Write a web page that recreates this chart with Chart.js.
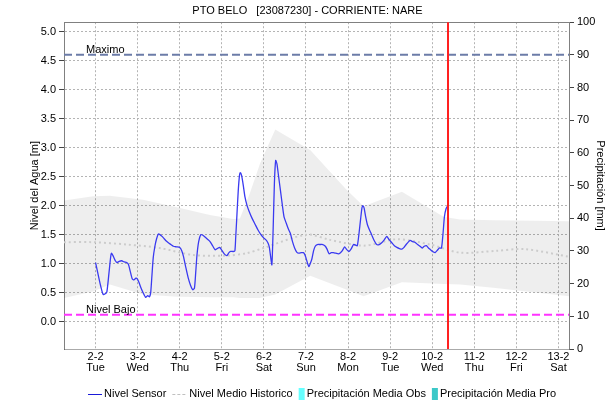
<!DOCTYPE html>
<html>
<head>
<meta charset="utf-8">
<script src="https://cdn.jsdelivr.net/npm/chart.js@4/dist/chart.umd.min.js"></script>
<style>
  html, body { margin: 0; padding: 0; background: #fff; }
  #c { display: block; }
</style>
</head>
<body>
<canvas id="c" width="615" height="408"></canvas>
<script>
// Day axis: value 2 = 2 Feb 00:00, fractions are parts of a day
const tickDays = [2, 3, 4, 5, 6, 7, 8, 9, 10, 11, 12, 13];
const tickDates = ['2-2', '3-2', '4-2', '5-2', '6-2', '7-2', '8-2', '9-2', '10-2', '11-2', '12-2', '13-2'];
const tickWeekdays = ['Tue', 'Wed', 'Thu', 'Fri', 'Sat', 'Sun', 'Mon', 'Tue', 'Wed', 'Thu', 'Fri', 'Sat'];
const levelTicks = [0, 0.5, 1, 1.5, 2, 2.5, 3, 3.5, 4, 4.5, 5];
const precipTicks = [0, 10, 20, 30, 40, 50, 60, 70, 80, 90, 100];

const dayStart = 1.25;
const dayEnd = 13.25;
const nowDay = 10.375;       // current reading time
const maxLevel = 4.6;        // Maximo
const lowLevel = 0.12;       // Nivel Bajo

// Nivel Sensor [m]
const sensorDays = [
  2.00, 2.05, 2.12, 2.18, 2.23, 2.27, 2.32, 2.36, 2.38, 2.42, 2.47, 2.51, 2.56, 2.62, 2.68, 2.74,
  2.78, 2.82, 2.87, 2.91, 2.96, 2.99, 3.03, 3.08, 3.13, 3.19, 3.24, 3.28, 3.31, 3.34, 3.37, 3.41,
  3.45, 3.49, 3.53, 3.58, 3.63, 3.68, 3.73, 3.79, 3.85, 3.92, 4.00, 4.05, 4.09, 4.14, 4.20, 4.26,
  4.31, 4.35, 4.38, 4.41, 4.45, 4.50, 4.55, 4.60, 4.66, 4.72, 4.78, 4.84, 4.89, 4.95, 5.01, 5.07,
  5.12, 5.17, 5.21, 5.27, 5.31, 5.33, 5.36, 5.39, 5.42, 5.44, 5.47, 5.51, 5.55, 5.60, 5.65, 5.72,
  5.79, 5.86, 5.93, 6.00, 6.06, 6.10, 6.13, 6.16, 6.19, 6.22, 6.25, 6.28, 6.31, 6.35, 6.39, 6.44,
  6.48, 6.53, 6.58, 6.63, 6.68, 6.73, 6.78, 6.83, 6.89, 6.94, 6.97, 7.00, 7.04, 7.07, 7.10, 7.14,
  7.18, 7.22, 7.27, 7.33, 7.40, 7.46, 7.50, 7.55, 7.60, 7.65, 7.71, 7.77, 7.82, 7.86, 7.92, 7.96,
  8.02, 8.07, 8.13, 8.18, 8.22, 8.26, 8.30, 8.33, 8.35, 8.38, 8.42, 8.46, 8.51, 8.56, 8.62, 8.68,
  8.74, 8.80, 8.86, 8.92, 8.97, 9.04, 9.10, 9.16, 9.22, 9.28, 9.33, 9.38, 9.44, 9.48, 9.53, 9.59,
  9.65, 9.71, 9.76, 9.81, 9.86, 9.91, 9.96, 10.01, 10.07, 10.12, 10.17, 10.22, 10.26, 10.29, 10.33, 10.37
];
const sensorLevels = [
  1.02, 0.85, 0.62, 0.47, 0.48, 0.52, 0.85, 1.12, 1.18, 1.13, 1.05, 1.02, 1.04, 1.05, 1.03, 1.02,
  0.99, 0.88, 0.74, 0.72, 0.75, 0.74, 0.68, 0.58, 0.50, 0.42, 0.45, 0.43, 0.50, 0.80, 1.10, 1.30,
  1.43, 1.51, 1.50, 1.47, 1.43, 1.39, 1.36, 1.33, 1.30, 1.29, 1.28, 1.22, 1.12, 0.95, 0.76, 0.62,
  0.55, 0.58, 0.85, 1.15, 1.38, 1.50, 1.49, 1.46, 1.42, 1.38, 1.31, 1.24, 1.26, 1.28, 1.22, 1.16,
  1.14, 1.19, 1.21, 1.21, 1.22, 1.45, 1.85, 2.25, 2.52, 2.57, 2.52, 2.35, 2.15, 2.00, 1.90, 1.78,
  1.68, 1.58, 1.50, 1.44, 1.40, 1.35, 1.28, 1.12, 0.98, 1.60, 2.40, 2.78, 2.72, 2.50, 2.28, 2.00,
  1.80, 1.70, 1.60, 1.52, 1.38, 1.27, 1.20, 1.18, 1.19, 1.19, 1.16, 1.10, 1.00, 0.95, 1.00, 1.08,
  1.22, 1.30, 1.33, 1.33, 1.33, 1.30, 1.25, 1.17, 1.19, 1.19, 1.18, 1.17, 1.19, 1.22, 1.29, 1.25,
  1.21, 1.25, 1.33, 1.32, 1.31, 1.52, 1.78, 1.96, 2.00, 1.96, 1.80, 1.67, 1.58, 1.50, 1.40, 1.33,
  1.33, 1.36, 1.41, 1.47, 1.42, 1.36, 1.31, 1.28, 1.26, 1.25, 1.28, 1.33, 1.38, 1.40, 1.38, 1.37,
  1.33, 1.30, 1.27, 1.30, 1.31, 1.27, 1.24, 1.21, 1.19, 1.23, 1.27, 1.27, 1.55, 1.81, 1.95, 2.00
];

// Historical range band [m]
const bandDays = [1.25, 1.94, 2.34, 3.13, 3.93, 4.72, 5.27, 5.43, 5.67, 5.91, 6.27, 7.10, 7.97, 8.37, 9.28, 10.27, 10.66, 11.50, 12.50, 13.25];
const bandHigh = [2.09, 2.16, 2.17, 2.10, 1.97, 1.84, 1.77, 1.78, 2.22, 2.73, 3.31, 2.96, 2.27, 1.99, 2.24, 1.81, 1.76, 1.75, 1.74, 1.73];
const bandLow  = [0.41, 0.52, 0.64, 0.47, 0.43, 0.42, 0.42, 0.41, 0.41, 0.41, 0.47, 0.79, 0.55, 0.44, 0.68, 0.65, 0.64, 0.58, 0.50, 0.44];

// Nivel Medio Historico [m]
const meanDays = [1.25, 1.94, 2.74, 3.52, 4.32, 5.12, 5.59, 5.99, 7.02, 7.57, 8.37, 9.16, 9.95, 10.66, 11.50, 12.20, 13.25];
const meanLevels = [1.37, 1.37, 1.33, 1.27, 1.15, 1.14, 1.18, 1.27, 1.50, 1.41, 1.31, 1.42, 1.33, 1.19, 1.22, 1.25, 1.12];

// Precipitation series (no readings in this period)
const precipObs = [];
const precipPro = [];

const FONT = 'Liberation Sans, Arial, sans-serif';

const pts = (xs, ys) => xs.map((x, i) => ({ x, y: ys[i] }));
const flat = (v) => [{ x: dayStart, y: v }, { x: dayEnd, y: v }];

const frame = {
  id: 'frame',
  afterDraw(chart) {
    const { ctx, chartArea: a, scales } = chart;
    ctx.save();
    // top border of the plot
    ctx.strokeStyle = '#808080';
    ctx.lineWidth = 1;
    ctx.beginPath();
    ctx.moveTo(Math.round(a.left) + 0.5, Math.round(a.top) + 0.5);
    ctx.lineTo(Math.round(a.right) + 0.5, Math.round(a.top) + 0.5);
    ctx.stroke();
    // bottom border (dotted)
    ctx.strokeStyle = '#555';
    ctx.setLineDash([1, 1]);
    ctx.beginPath();
    ctx.moveTo(Math.round(a.left) + 0.5, Math.round(a.bottom) + 0.5);
    ctx.lineTo(Math.round(a.right) + 0.5, Math.round(a.bottom) + 0.5);
    ctx.stroke();
    ctx.setLineDash([]);

    // current time marker
    const xn = scales.x.getPixelForValue(nowDay);
    ctx.strokeStyle = '#ff2020';
    ctx.lineWidth = 2;
    ctx.beginPath();
    ctx.moveTo(xn, a.top);
    ctx.lineTo(xn, a.bottom);
    ctx.stroke();

    // reference level captions
    ctx.fillStyle = '#000';
    ctx.font = '11px ' + FONT;
    ctx.textBaseline = 'alphabetic';
    ctx.textAlign = 'left';
    ctx.fillText('Maximo', a.left + 22, scales.y.getPixelForValue(maxLevel) - 2);
    ctx.fillText('Nivel Bajo', a.left + 22, scales.y.getPixelForValue(lowLevel) - 2);

    // legend row
    const ly = 394;
    let x = 88;
    ctx.textBaseline = 'middle';
    const ds = chart.data.datasets;
    const items = [
      { kind: 'line', ds: ds[4] },
      { kind: 'dash', ds: ds[3] },
      { kind: 'box', ds: ds[7] },
      { kind: 'box', ds: ds[8] }
    ];
    items.forEach((it) => {
      if (it.kind === 'line') {
        ctx.strokeStyle = '#1a1ad8';
        ctx.lineWidth = 1;
        ctx.beginPath();
        ctx.moveTo(x, ly + 0.5);
        ctx.lineTo(x + 14, ly + 0.5);
        ctx.stroke();
        x += 16;
      } else if (it.kind === 'dash') {
        ctx.strokeStyle = '#c0c0c0';
        ctx.lineWidth = 1;
        ctx.setLineDash([3, 2]);
        ctx.beginPath();
        ctx.moveTo(x, ly + 0.5);
        ctx.lineTo(x + 14, ly + 0.5);
        ctx.stroke();
        ctx.setLineDash([]);
        x += 17;
      } else {
        ctx.fillStyle = it.ds.backgroundColor;
        ctx.fillRect(x, ly - 6, 6, 12);
        x += 8;
      }
      ctx.fillStyle = '#000';
      ctx.fillText(it.ds.label, x, ly);
      x += ctx.measureText(it.ds.label).width + 6;
    });
    ctx.restore();
  }
};

new Chart(document.getElementById('c'), {
  data: {
    datasets: [
      { type: 'line', label: 'Rango bajo', data: pts(bandDays, bandLow), yAxisID: 'y',
        borderWidth: 0, pointRadius: 0, fill: false, order: 10 },
      { type: 'line', label: 'Rango alto', data: pts(bandDays, bandHigh), yAxisID: 'y',
        borderWidth: 0, pointRadius: 0, fill: '-1', backgroundColor: 'rgba(0,0,0,0.065)', order: 9 },
      { type: 'line', label: 'Maximo', data: flat(maxLevel), yAxisID: 'y',
        borderColor: '#6c7ca8', borderWidth: 2, borderDash: [8, 4], pointRadius: 0, order: 5 },
      { type: 'line', label: 'Nivel Medio Historico', data: pts(meanDays, meanLevels), yAxisID: 'y',
        borderColor: '#cccccc', borderWidth: 2, borderDash: [2, 3], pointRadius: 0, tension: 0.3, order: 6 },
      { type: 'line', label: 'Nivel Sensor', data: pts(sensorDays, sensorLevels), yAxisID: 'y',
        borderColor: '#3a3af0', borderWidth: 1.3, pointRadius: 0, tension: 0.2, order: 1 },
      { type: 'line', label: 'Nivel Bajo', data: flat(lowLevel), yAxisID: 'y',
        borderColor: '#ff33ff', borderWidth: 2, borderDash: [8, 4], pointRadius: 0, order: 4 },
      { type: 'line', label: '', data: [], yAxisID: 'y1', pointRadius: 0 },
      { type: 'bar', label: 'Precipitación Media Obs', data: precipObs, yAxisID: 'y1', backgroundColor: '#66ffff' },
      { type: 'bar', label: 'Precipitación Media Pro', data: precipPro, yAxisID: 'y1', backgroundColor: '#3cc8c8' }
    ]
  },
  options: {
    responsive: false,
    animation: false,
    devicePixelRatio: 1,
    layout: { padding: 0 },
    plugins: {
      legend: { display: false },
      tooltip: { enabled: false },
      title: {
        display: true,
        text: 'PTO BELO   [23087230] - CORRIENTE: NARE',
        color: '#000',
        font: { family: FONT, size: 11, weight: 'normal' },
        padding: { top: 4, bottom: 5 }
      }
    },
    scales: {
      x: {
        type: 'linear',
        offset: false,
        min: dayStart,
        max: dayEnd,
        afterBuildTicks: (s) => { s.ticks = tickDays.map((v) => ({ value: v })); },
        afterFit: (s) => { s.height = 59; s.paddingLeft = 0; s.paddingRight = 0; },
        ticks: {
          autoSkip: false,
          maxRotation: 0,
          padding: 2,
          color: '#000',
          font: { family: FONT, size: 11, lineHeight: 1 },
          callback: (v, i) => [tickDates[i], tickWeekdays[i]]
        },
        grid: { display: true, drawOnChartArea: true, color: '#b4b4b4', lineWidth: 1, drawTicks: false, offset: false },
        border: { display: false, dash: [2, 2] }
      },
      y: {
        position: 'left',
        min: -0.47,
        max: 5.16,
        afterBuildTicks: (s) => { s.ticks = levelTicks.map((v) => ({ value: v })); },
        afterFit: (s) => { s.width = 64; s.paddingTop = 0; s.paddingBottom = 0; },
        ticks: {
          padding: 3,
          color: '#000',
          font: { family: FONT, size: 11 },
          callback: (v) => Number(v).toFixed(1)
        },
        grid: { display: true, drawOnChartArea: true, color: '#b4b4b4', lineWidth: 1, tickColor: '#444', tickLength: 5, tickBorderDash: [] },
        border: { color: '#808080', dash: [2, 2] },
        title: {
          display: true,
          text: 'Nivel del Agua [m]',
          color: '#000',
          font: { family: FONT, size: 11 },
          padding: { top: 28, bottom: 0 }
        }
      },
      y1: {
        position: 'right',
        min: 0,
        max: 100,
        afterBuildTicks: (s) => { s.ticks = precipTicks.map((v) => ({ value: v })); },
        afterFit: (s) => { s.width = 46; s.paddingTop = 0; s.paddingBottom = 0; },
        ticks: {
          padding: 3,
          color: '#000',
          font: { family: FONT, size: 11 }
        },
        grid: { drawOnChartArea: false, tickColor: '#444', tickLength: 5 },
        border: { color: '#808080' },
        title: {
          display: true,
          text: 'Precipitación [mm]',
          color: '#000',
          font: { family: FONT, size: 11 },
          padding: { top: 8, bottom: 0 }
        }
      }
    }
  },
  plugins: [frame]
});
</script>
</body>
</html>
